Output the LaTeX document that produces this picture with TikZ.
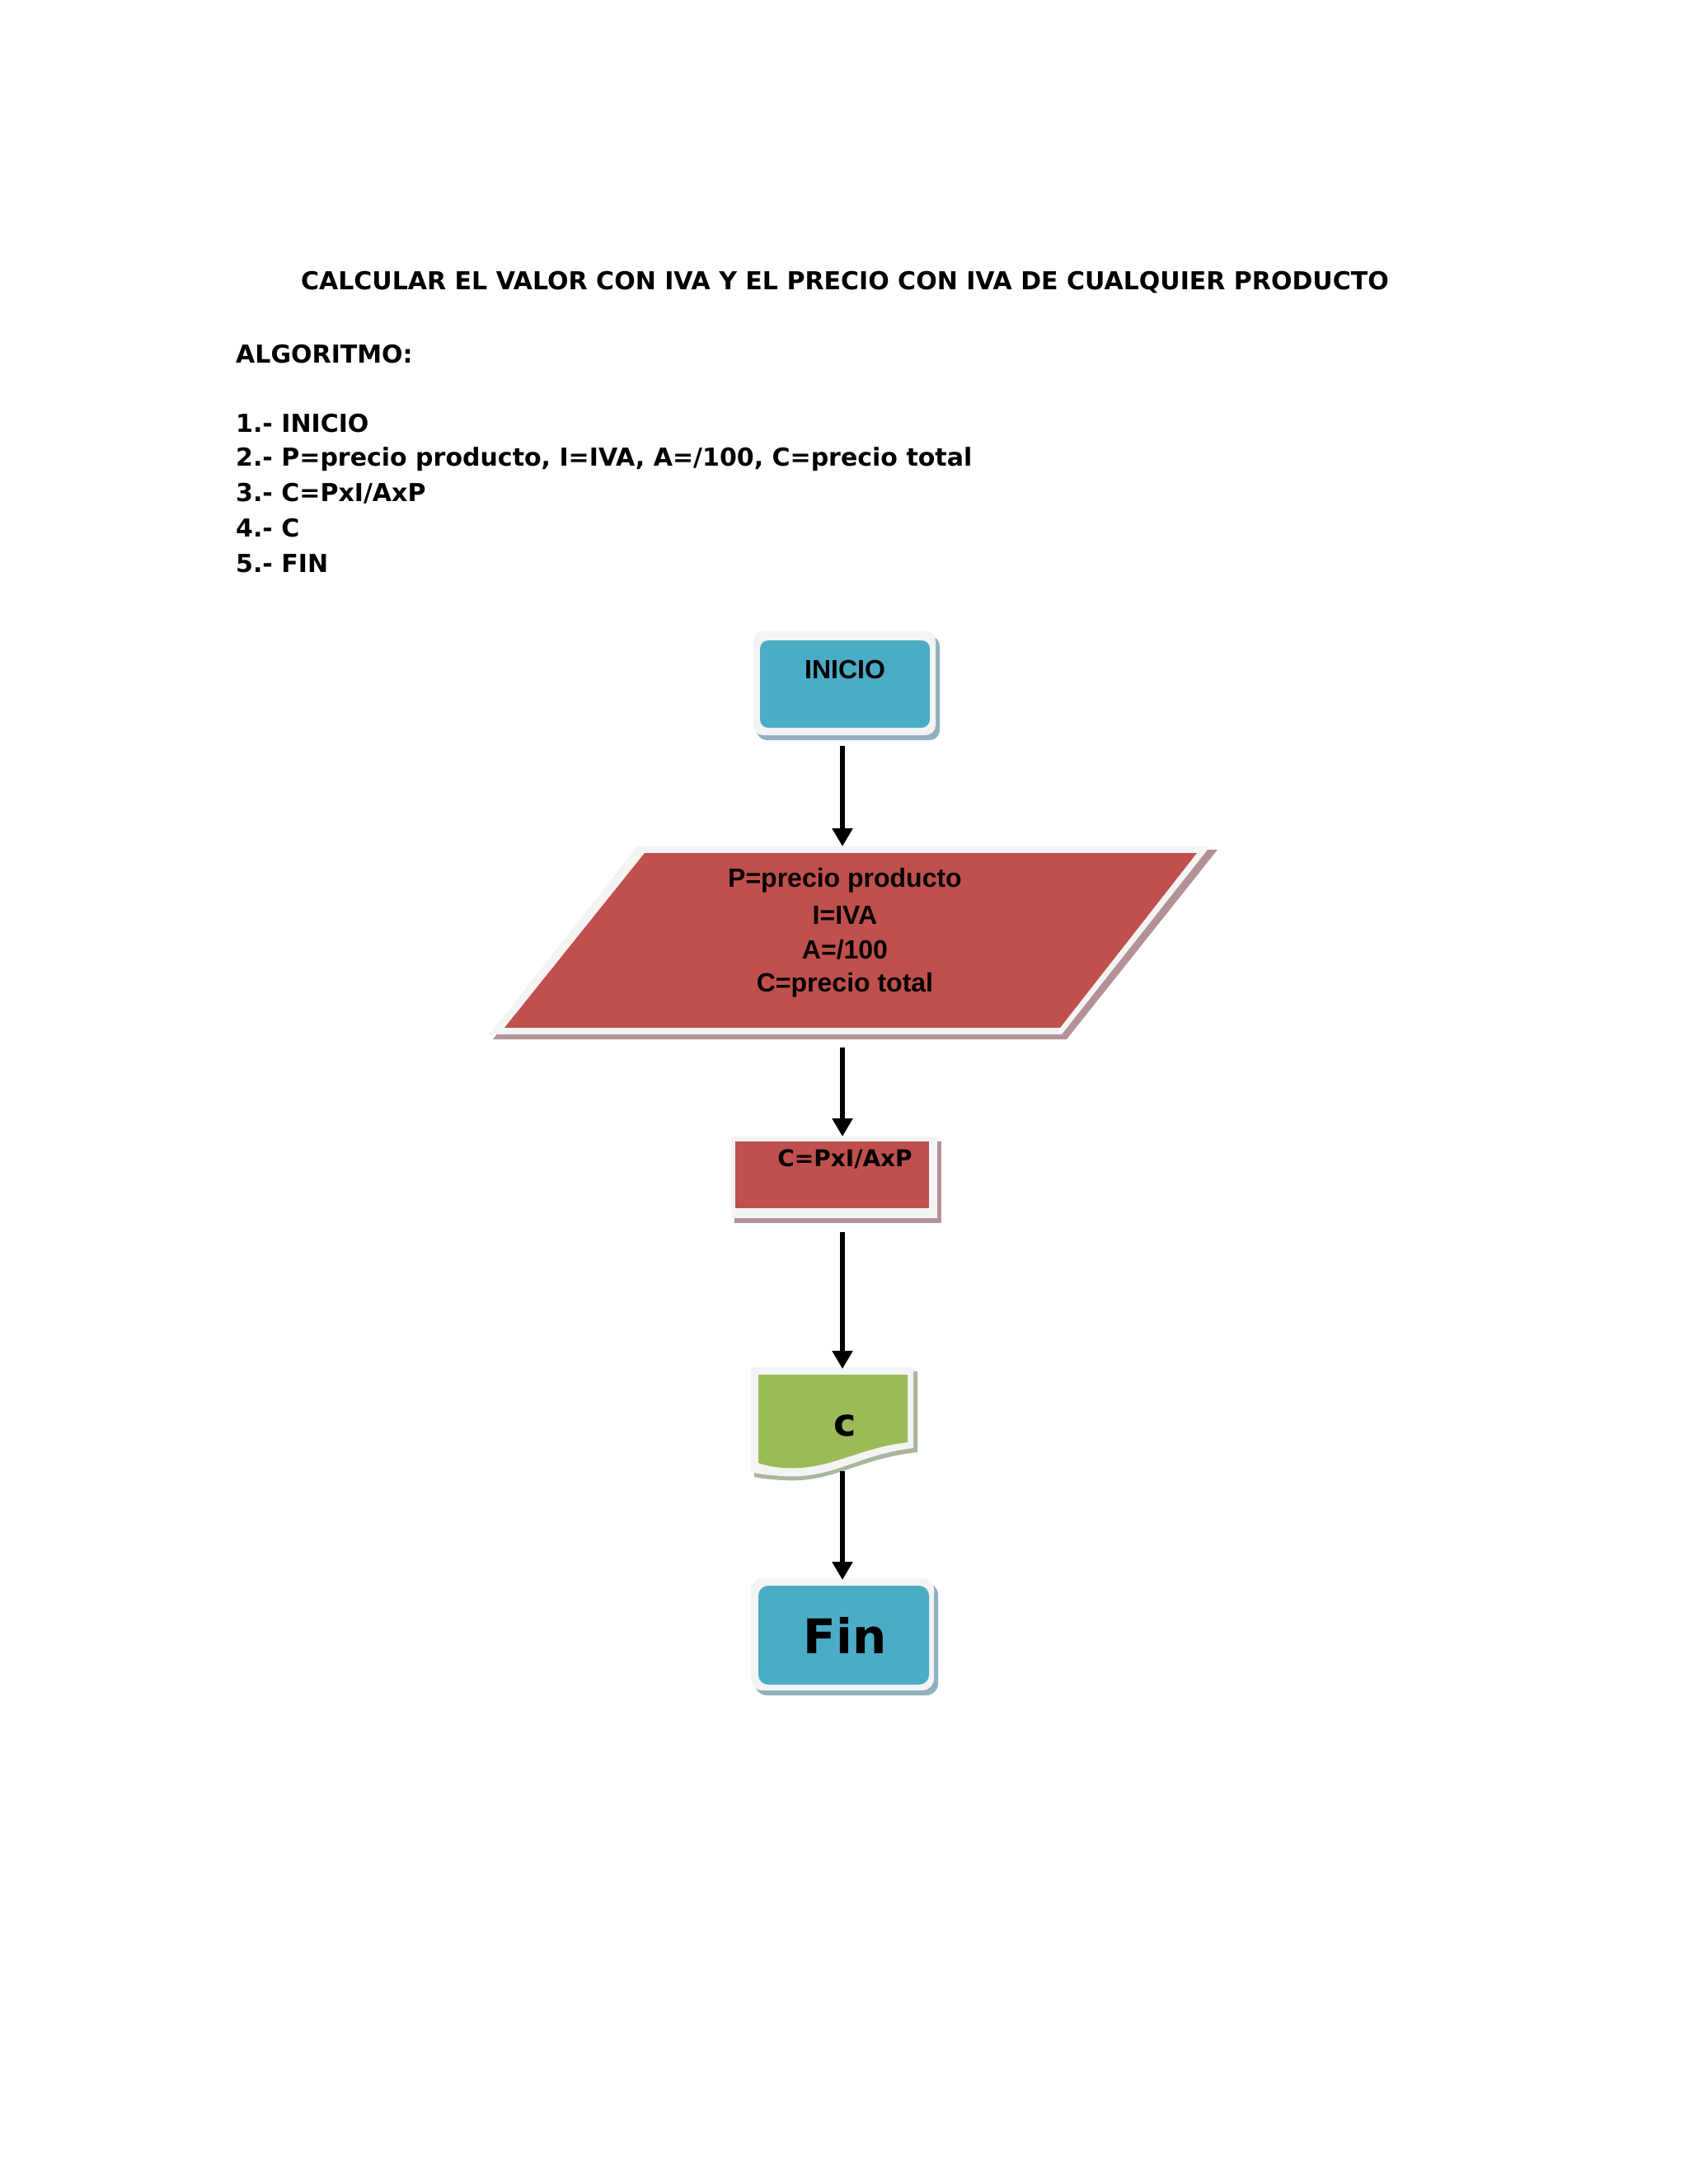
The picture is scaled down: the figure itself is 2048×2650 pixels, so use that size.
\documentclass[tikz,border=0pt]{standalone}
\usepackage{fontspec}
\setmainfont{DejaVu Sans}
\newfontfamily\narrowf{Liberation Sans}
\usetikzlibrary{arrows.meta}
\definecolor{cblue}{HTML}{4BACC6}
\definecolor{cred}{HTML}{C0504D}
\definecolor{cgreen}{HTML}{9BBB59}
\definecolor{sblue}{HTML}{8FB0BE}
\definecolor{sred}{HTML}{B39296}
\definecolor{sgreen}{HTML}{A9B79D}
\definecolor{frame}{HTML}{F4F4F4}
\tikzset{
  flow/.style={line width=6pt,-{Triangle[width=24pt,length=22pt]}},
  lbl/.style={font=\bfseries\fontsize{30}{36}\selectfont,anchor=west,inner sep=0},
  shp/.style={font=\bfseries\fontsize{30}{36}\selectfont,inner sep=0},
  nar/.style={font=\narrowf\bfseries\fontsize{32}{36}\selectfont,inner sep=0}
}
\begin{document}
\begin{tikzpicture}[x=1pt,y=-1pt]
\useasboundingbox (0,0) rectangle (2048,2650);
\fill[white] (0,0) rectangle (2048,2650);
% texts
\node[shp] (title) at (1025,343) {CALCULAR EL VALOR CON IVA Y EL PRECIO CON IVA DE CUALQUIER PRODUCTO};
\node[lbl] (alg) at (286,430) {ALGORITMO:};
\node[lbl] (l1) at (286,514) {1.- INICIO};
\node[lbl] (l2) at (286,557) {2.- P=precio producto, I=IVA, A=/100, C=precio total};
\node[lbl] (l3) at (286,599) {3.- C=PxI/AxP};
\node[lbl] (l4) at (286,641) {4.- C};
\node[lbl] (l5) at (286,684) {5.- FIN};
% INICIO
\fill[sblue,rounded corners=12] (918,772) rectangle (1140,898);
\fill[frame,rounded corners=12] (914,766) rectangle (1135,892);
\fill[cblue,rounded corners=10] (922,777) rectangle (1128,883);
\node[nar] (inicio) at (1025,812) {INICIO};
% parallelogram
\fill[sred] (779,1031) -- (1477,1031) -- (1294,1261) -- (598,1261) -- cycle;
\fill[frame] (773,1027) -- (1468,1027) -- (1288,1255) -- (594,1255) -- cycle;
\fill[cred] (782,1035) -- (1452,1035) -- (1286,1247) -- (612,1247) -- cycle;
\node[nar,align=center] (datos) at (1025,1068) {P=precio producto};
\node[nar] (d2) at (1025,1110) {I=IVA};
\node[nar] (d3) at (1025,1152) {A=/100};
\node[nar] (d4) at (1025,1195) {C=precio total};
% process
\fill[sred] (891,1385) rectangle (1142,1484);
\fill[frame] (887,1379) rectangle (1137,1478);
\fill[cred] (892,1385) rectangle (1127,1466);
\node[shp,font=\bfseries\fontsize{28}{32}\selectfont] (proc) at (1025,1406) {C=PxI/AxP};
% document
\fill[sgreen] (915,1664) -- (1113,1664) -- (1113,1762) .. controls (1040,1770) and (1010,1800) .. (950,1796) .. controls (930,1795) and (920,1793) .. (915,1792) -- cycle;
\fill[frame] (911,1659) -- (1108,1659) -- (1108,1757) .. controls (1040,1765) and (1010,1795) .. (950,1791) .. controls (930,1790) and (918,1788) .. (911,1786) -- cycle;
\fill[cgreen] (920,1668) -- (1101,1668) -- (1101,1750) .. controls (1040,1757) and (1005,1785) .. (950,1781) .. controls (935,1780) and (925,1777) .. (920,1775) -- cycle;
\node[shp,font=\bfseries\fontsize{46}{50}\selectfont] (salida) at (1025,1730) {c};
% Fin
\fill[sblue,rounded corners=14] (916,1921) rectangle (1138,2057);
\fill[frame,rounded corners=14] (911,1915) rectangle (1133,2051);
\fill[cblue,rounded corners=12] (920,1924) rectangle (1127,2044);
\node[shp,font=\bfseries\fontsize{58}{62}\selectfont] (fin) at (1025,1984) {Fin};
% arrows
\coordinate (a1s) at (1022,905); \coordinate (a1e) at (1022,1027);
\coordinate (a2s) at (1022,1271); \coordinate (a2e) at (1022,1379);
\coordinate (a3s) at (1022,1495); \coordinate (a3e) at (1022,1661);
\coordinate (a4s) at (1022,1785); \coordinate (a4e) at (1022,1917);
\draw[flow] (a1s) -- (a1e);
\draw[flow] (a2s) -- (a2e);
\draw[flow] (a3s) -- (a3e);
\draw[flow] (a4s) -- (a4e);
\end{tikzpicture}
\end{document}
